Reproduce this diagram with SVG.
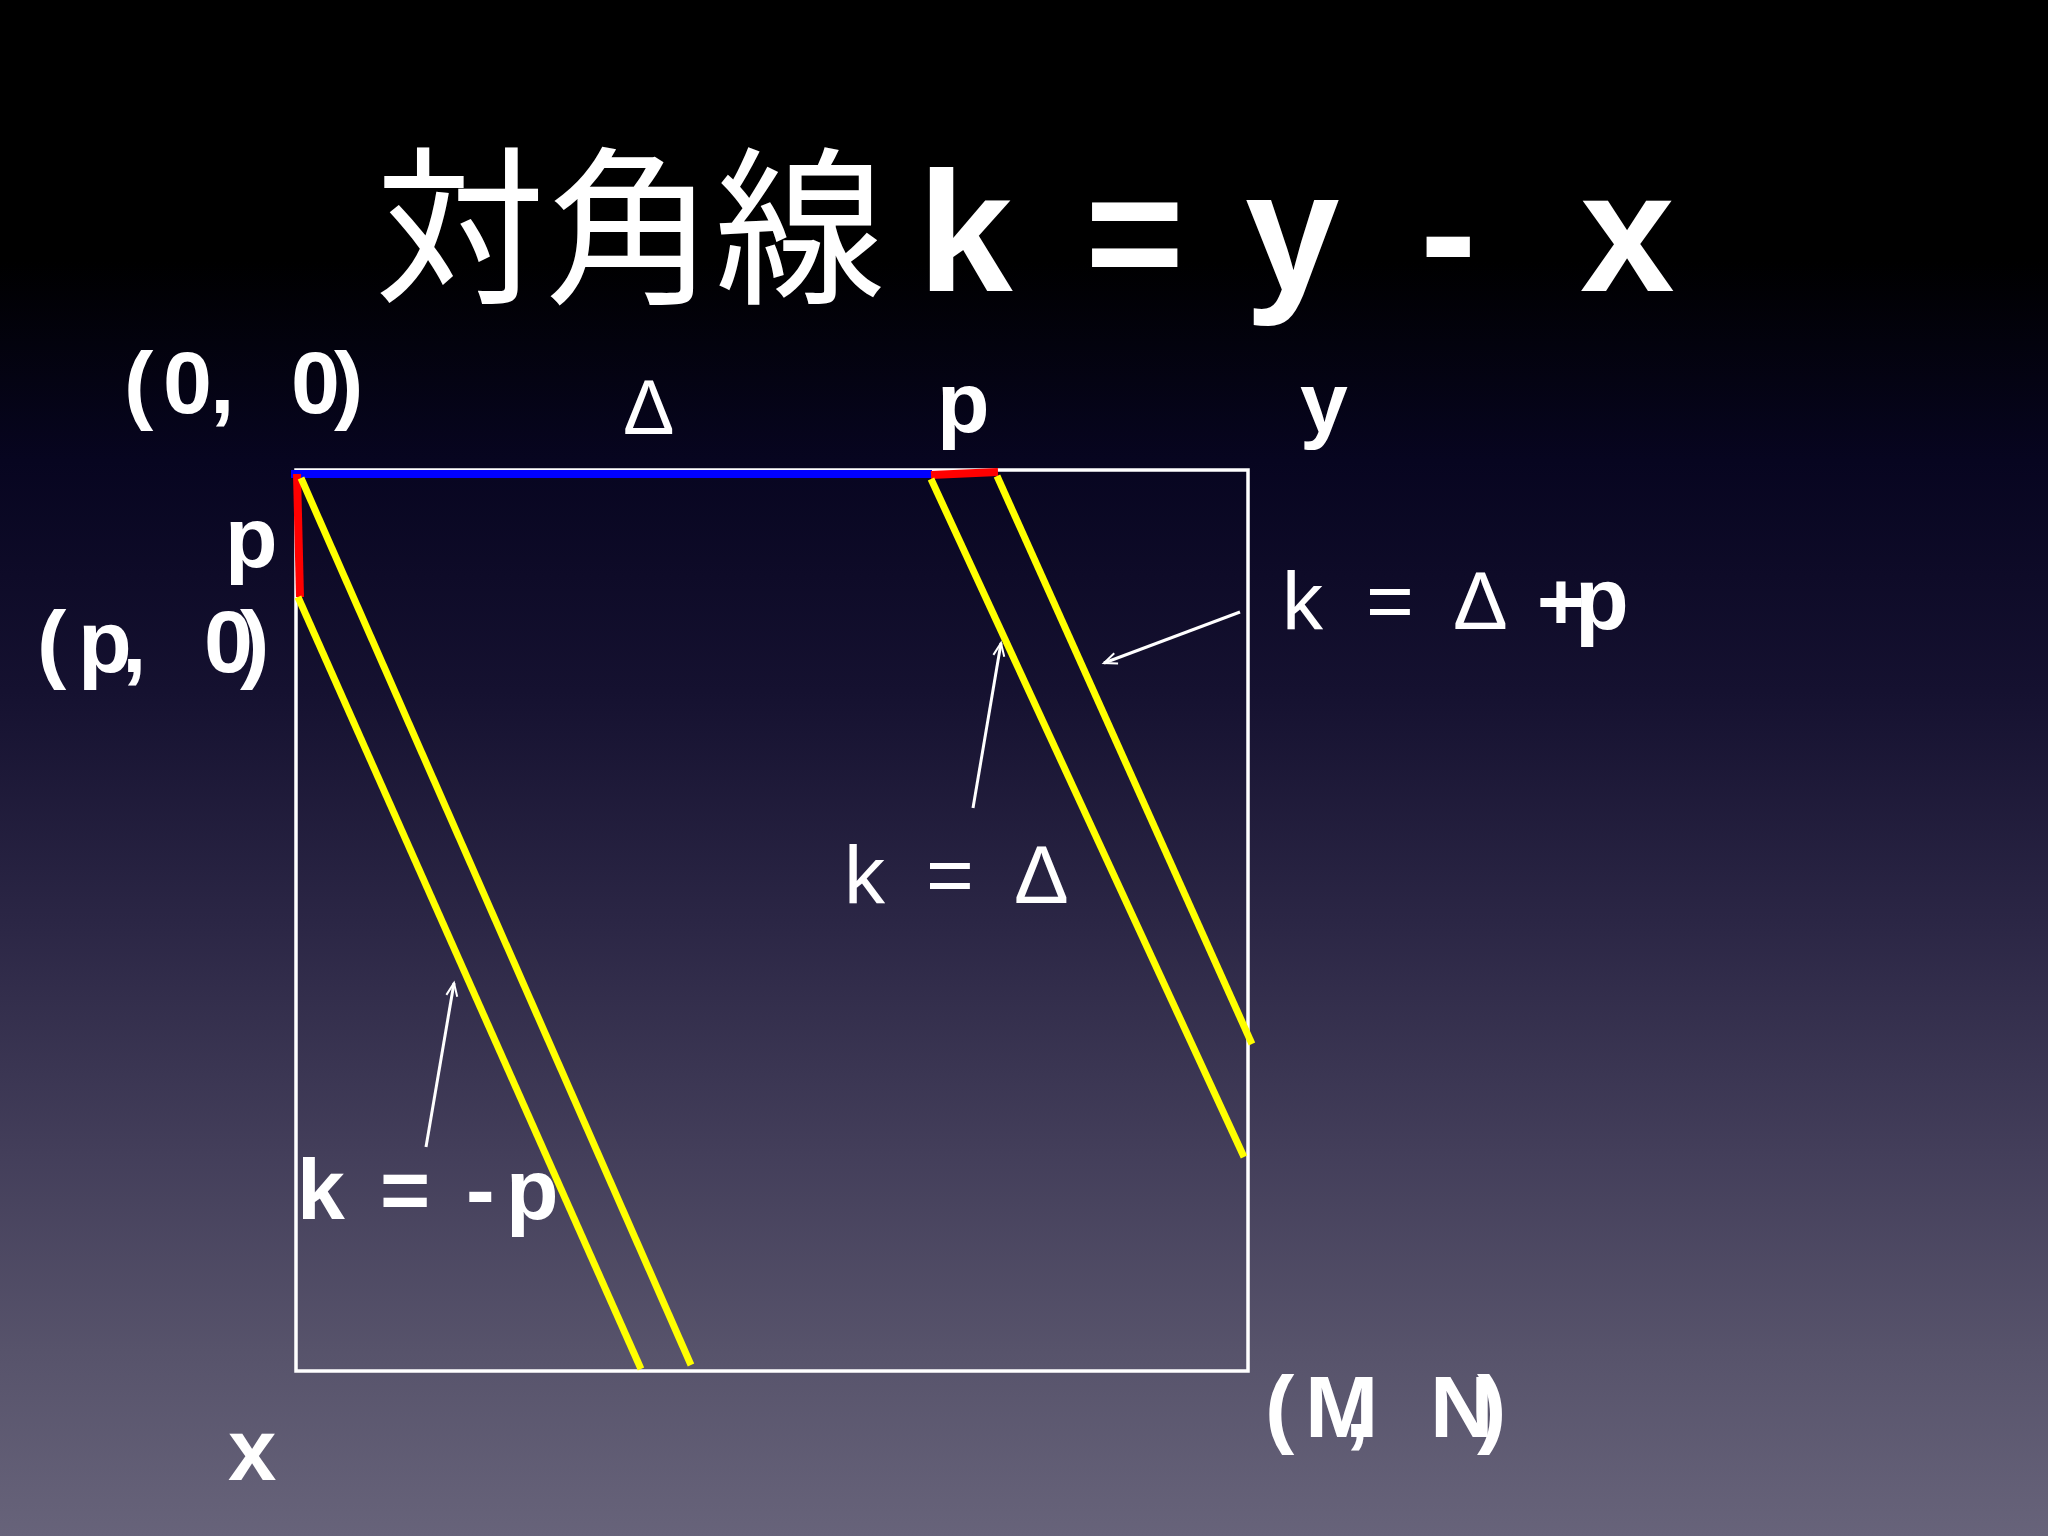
<svg xmlns="http://www.w3.org/2000/svg" width="2048" height="1536" viewBox="0 0 2048 1536">
<defs>
<linearGradient id="bg" x1="0" y1="0" x2="0" y2="1536" gradientUnits="userSpaceOnUse">
<stop offset="0" stop-color="#000000"/>
<stop offset="0.17" stop-color="#000000"/>
<stop offset="0.3" stop-color="#070520"/>
<stop offset="0.45" stop-color="#151130"/>
<stop offset="0.6" stop-color="#2b2645"/>
<stop offset="0.75" stop-color="#433e5a"/>
<stop offset="0.88" stop-color="#57536b"/>
<stop offset="1" stop-color="#67637a"/>
</linearGradient>
<marker id="ah" markerUnits="userSpaceOnUse" markerWidth="18" markerHeight="14" refX="15" refY="7" orient="auto">
<path d="M2,1.5 L15,7 L2,12.5" fill="none" stroke="#ffffff" stroke-width="2"/>
</marker>
<style>
.t{fill:#ffffff;font-family:"Liberation Sans",Arial,sans-serif}
.b{font-weight:bold}
.cjk{fill:#ffffff;font-family:"Noto Sans CJK JP","Noto Sans CJK SC",sans-serif}
.y{stroke:#ffff00;stroke-width:7;fill:none}
.r{stroke:#ff0000;stroke-width:8;fill:none}
.arr{stroke:#ffffff;stroke-width:3;fill:none;marker-end:url(#ah)}
</style>
</defs>
<rect x="0" y="0" width="2048" height="1536" fill="url(#bg)"/>

<g id="title">
<text class="cjk" x="375" y="291" font-size="170">対角線</text>
<text class="t b" y="291" font-size="170"><tspan x="918">k</tspan><tspan x="1085">=</tspan><tspan x="1245">y</tspan><tspan x="1420">-</tspan><tspan x="1580">x</tspan></text>
</g>

<g id="figure">
<rect x="296" y="470" width="952" height="901" fill="none" stroke="#ffffff" stroke-width="3.5"/>
<line x1="291" y1="474" x2="932" y2="474" stroke="#0000ff" stroke-width="8"/>
<line class="r" x1="931" y1="475" x2="998" y2="472"/>
<line class="r" x1="297" y1="474" x2="300" y2="597"/>
<line class="y" x1="298" y1="597" x2="641" y2="1369"/>
<line class="y" x1="301" y1="478" x2="691" y2="1365"/>
<line class="y" x1="931" y1="479" x2="1244" y2="1157"/>
<line class="y" x1="997" y1="476" x2="1252" y2="1044"/>
</g>

<g id="connectors">
<line class="arr" x1="1240" y1="612" x2="1104" y2="663"/>
<line class="arr" x1="973" y1="808" x2="1001" y2="643"/>
<line class="arr" x1="426" y1="1147" x2="454" y2="983"/>
</g>

<g id="label-origin">
<text class="t b" y="413" font-size="88"><tspan x="124">(</tspan><tspan x="163">0</tspan><tspan x="210">,</tspan><tspan x="291">0</tspan><tspan x="334">)</tspan></text>
</g>
<g id="label-delta">
<text class="t" x="623" y="434" font-size="77">Δ</text>
</g>
<g id="label-p-top">
<text class="t b" x="937" y="432" font-size="86">p</text>
</g>
<g id="label-y">
<text class="t b" x="1300" y="432" font-size="86">y</text>
</g>
<g id="label-p-left">
<text class="t b" x="225" y="567" font-size="86">p</text>
</g>
<g id="label-p0">
<text class="t b" y="672" font-size="88"><tspan x="37">(</tspan><tspan x="78">p</tspan><tspan x="122">,</tspan><tspan x="204">0</tspan><tspan x="240">)</tspan></text>
</g>
<g id="label-k-delta-p">
<text class="t" y="629" font-size="82"><tspan x="1282">k</tspan><tspan x="1366">=</tspan><tspan x="1453">Δ</tspan></text>
<text class="t b" y="629"><tspan x="1537" font-size="82">+</tspan><tspan x="1575" font-size="88">p</tspan></text>
</g>
<g id="label-k-delta">
<text class="t" y="903" font-size="82"><tspan x="844">k</tspan><tspan x="926">=</tspan><tspan x="1014">Δ</tspan></text>
</g>
<g id="label-k-minus-p">
<text class="t b" y="1219" font-size="86"><tspan x="297">k</tspan><tspan x="380">=</tspan><tspan x="466">-</tspan><tspan x="506">p</tspan></text>
</g>
<g id="label-x">
<text class="t b" x="228" y="1480" font-size="87">x</text>
</g>
<g id="label-MN">
<text class="t b" y="1437" font-size="88"><tspan x="1265">(</tspan><tspan x="1305">M</tspan><tspan x="1345">,</tspan><tspan x="1430">N</tspan><tspan x="1477">)</tspan></text>
</g>
</svg>
